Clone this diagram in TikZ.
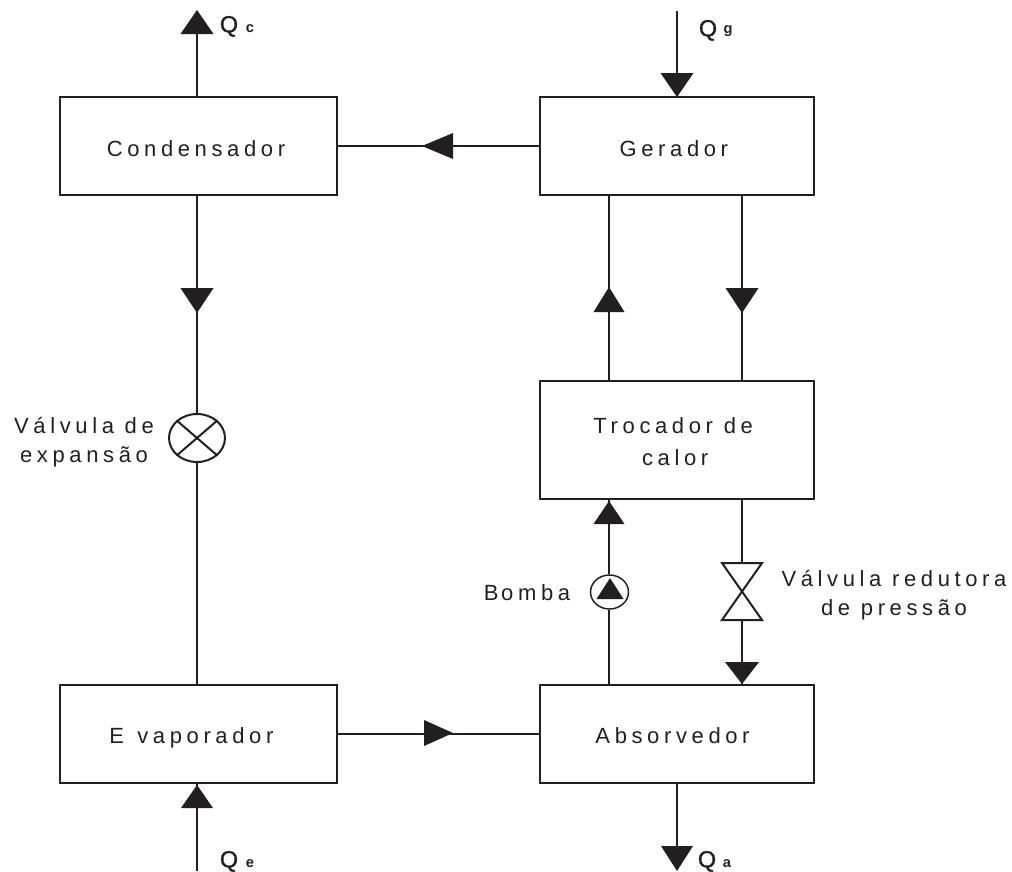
\documentclass[tikz,border=0pt]{standalone}
\usetikzlibrary{shapes.geometric}
\usepackage{fontspec}
\setmainfont{Liberation Sans}
\newfontfamily\spaced[LetterSpace=21]{Liberation Sans}
\newfontfamily\heavy[FakeBold=1.4]{Liberation Sans}
\definecolor{ink}{HTML}{231F20}
\newcommand{\dropped}[2][0pt]{\raisebox{-7.5pt}[0pt][0pt]{\kern#1 #2\kern-#1}}
\tikzset{x=0.75pt,y=-0.75pt,
  line/.style={draw=ink,line width=1.5pt},
  thin line/.style={draw=ink,line width=1.1pt},
  block/.style={line,rectangle,inner sep=0pt,align=center,text=ink,font=\fontsize{16.5pt}{24.5pt}\selectfont\spaced},
  lab/.style={inner sep=0pt,align=center,text=ink,font=\fontsize{16.5pt}{21.5pt}\selectfont\spaced},
  qlab/.style={inner sep=0pt,text=ink,font=\fontsize{17.5pt}{18pt}\selectfont\heavy,text height=12pt,text depth=1pt},
  sublab/.style={inner sep=0pt,text=ink,font=\fontsize{11pt}{13pt}\selectfont\bfseries},
  head/.style={fill=ink,draw=none}}
\newcommand{\uphead}[4]{\fill[head] (#1,#2) -- (#1-#4,#3) -- (#1+#4,#3) -- cycle;}
\begin{document}
\begin{tikzpicture}
\useasboundingbox (0,0) rectangle (1012,871);
\path[fill=white] (0,0) rectangle (1012,871);
% blocks
\node[block,minimum width=207.75pt,minimum height=73.5pt] (cond) at (198,146) {\dropped[-1.5pt]{Condensador}};
\node[block,minimum width=205.5pt,minimum height=73.5pt] (ger) at (676.5,146) {\dropped[-2pt]{Gerador}};
\node[block,minimum width=205.5pt,minimum height=88.5pt] (troc) at (676.5,439.5) {\dropped[-2.5pt]{Trocador de}\\\dropped[-1pt]{calor}};
\node[block,minimum width=207.75pt,minimum height=73.5pt] (evap) at (198,733.5) {\dropped[-5pt]{E\kern10pt vaporador}};
\node[block,minimum width=205.5pt,minimum height=73.5pt] (abs) at (676.5,733.5) {\dropped[-3pt]{Absorvedor}};
% valve and pump
\node[line,ellipse,inner sep=0pt,minimum width=42pt,minimum height=36pt] (vexp) at (197,438) {};
\node[thin line,ellipse,inner sep=0pt,minimum width=28.5pt,minimum height=25.5pt] (pump) at (609.5,592) {};
\coordinate (xc) at (197,0);
\coordinate (xl) at (609,0);
\coordinate (xr) at (742,0);
\coordinate (xq) at (677,0);
\coordinate (vt) at (742,563);
\coordinate (vb) at (742,620);
\coordinate (qctop) at (197,30);
\coordinate (qgtop) at (677,11);
\coordinate (qebot) at (197,871);
\coordinate (qabot) at (677,860);
% connectors
\draw[line] (cond.north -| xc) -- (qctop);
\draw[line] (qgtop) -- (ger.north -| xq);
\draw[line] (ger.west) -- (cond.east);
\draw[line] (cond.south -| xc) -- (vexp.north);
\draw[line] (vexp.south) -- (evap.north -| xc);
\draw[line] (ger.south -| xl) -- (troc.north -| xl);
\draw[line] (ger.south -| xr) -- (troc.north -| xr);
\draw[line] (troc.south -| xl) -- (pump.north -| xl);
\draw[line] (pump.south -| xl) -- (abs.north -| xl);
\draw[line] (troc.south -| xr) -- (vt);
\draw[line] (vb) -- (abs.north -| xr);
\draw[line] (evap.east) -- (abs.west);
\draw[line] (qebot) -- (evap.south -| xc);
\draw[line] (abs.south -| xq) -- (qabot);
% valve crosses
\draw[line] (vexp.north west) -- (vexp.south east);
\draw[line] (vexp.north east) -- (vexp.south west);
\draw[line,line join=miter] (722,563) -- (762,563) -- (722,620) -- (762,620) -- cycle;
% heads
\uphead{197}{10}{34}{16.5}
\uphead{677}{97}{73}{16.5}
\uphead{197}{313}{288}{16.5}
\uphead{609}{287}{312}{15.5}
\uphead{742}{313}{288}{16.5}
\uphead{609}{501}{524}{15.5}
\uphead{610}{578}{599}{13.5}
\uphead{742}{684}{662}{17}
\uphead{197}{785}{808}{16}
\uphead{677}{871}{846}{16}
\fill[head] (422,146) -- (453,133) -- (453,159) -- cycle;
\fill[head] (453,733) -- (424,720) -- (424,746) -- cycle;
% labels
\node[qlab] (qc) at (229,25) {Q};
\node[sublab] (qcs) at (250,29) {c};
\node[qlab] (qgq) at (708,29) {Q};
\node[sublab] (qgs) at (728,31) {g};
\node[qlab] (qe) at (229,860) {Q};
\node[sublab] (qes) at (250,864) {e};
\node[qlab] (qa) at (707,860) {Q};
\node[sublab] (qas) at (727,864) {a};
\node[lab] (lvexp) at (84,442) {Válvula de\\expansão};
\node[lab] (lbomba) at (527,593) {B\kern2pt omba};
\node[lab] (lvred) at (894,595) {Válvula redutora\\de pressão};
\end{tikzpicture}
\end{document}
